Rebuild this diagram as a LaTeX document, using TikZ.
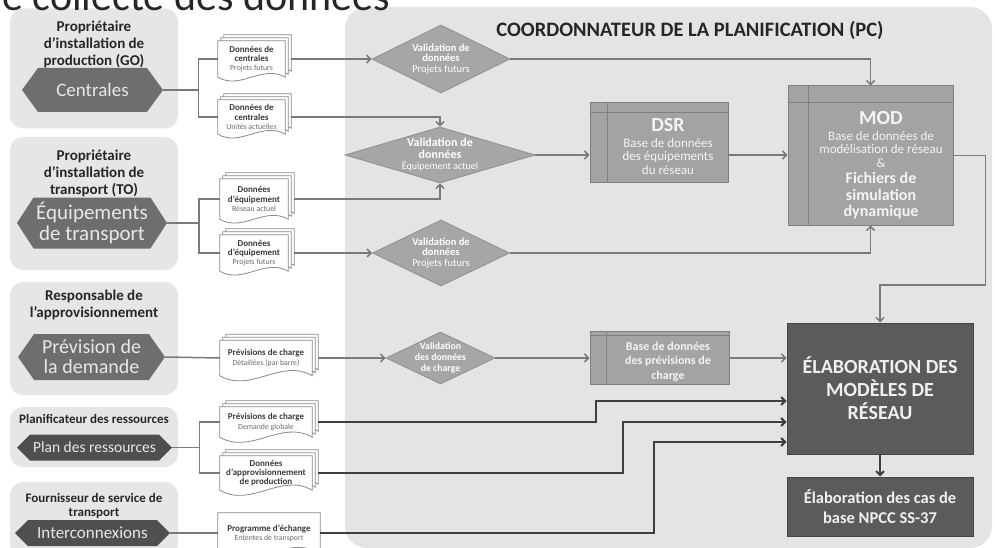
\documentclass[tikz,border=0pt]{standalone}
\usepackage{fontspec}
\setmainfont{Carlito}
\usetikzlibrary{shapes.geometric,shapes.symbols,arrows.meta,calc}
\pgfdeclarelayer{panels}
\pgfdeclarelayer{frames}
\pgfsetlayers{panels,frames,main}
\definecolor{panelbg}{HTML}{E6E6E6}
\definecolor{pcbg}{HTML}{E4E4E4}
\definecolor{hexA}{HTML}{6E6E6E}
\definecolor{hexB}{HTML}{4F4F4F}
\definecolor{hextext}{HTML}{E8E8E8}
\definecolor{diafill}{HTML}{A6A6A6}
\definecolor{diaedge}{HTML}{8E8E8E}
\definecolor{boxfill}{HTML}{A3A3A3}
\definecolor{boxedge}{HTML}{7F7F7F}
\definecolor{boxtext}{HTML}{F4F4F4}
\definecolor{darkfill}{HTML}{5B5B5B}
\definecolor{darkedge}{HTML}{454545}
\definecolor{elabtext}{HTML}{F0F0F0}
\definecolor{linecol}{HTML}{7A7A7A}
\definecolor{darkline}{HTML}{3F3F3F}
\definecolor{doctext}{HTML}{3A3A3A}
\definecolor{docsub}{HTML}{6A6A6A}
\definecolor{docedge}{HTML}{8A8A8A}
\newcommand{\docframe}[2]{%
  \path[docpage] ([shift={(#2pt,#2pt)}]#1.north west) -- ([shift={(#2pt,#2pt)}]#1.north east)
   -- ([shift={(#2pt,#2pt)}]#1.south east) to[out=150,in=-30] ([shift={(#2pt,#2pt)}]#1.south west) -- cycle;}
\newcommand{\docstack}[1]{\docframe{#1}{6}\docframe{#1}{3}\docframe{#1}{0}}
\tikzset{
  panel/.style={rectangle, rounded corners=13pt, fill=panelbg, draw=none, inner sep=0pt},
  pcpanel/.style={rectangle, rounded corners=22pt, fill=pcbg, draw=none, inner sep=0pt},
  ptitle/.style={font=\bfseries\fontsize{15}{17}\selectfont, align=center, text=black!85, inner sep=0pt},
  hexa/.style={signal, signal to=west and east, fill=hexA, text=hextext, inner sep=0pt, align=center},
  docnode/.style={rectangle, inner sep=0pt, align=center, text=doctext, font=\fontsize{9}{9.2}\selectfont},
  docpage/.style={fill=white, draw=docedge, line width=0.8pt},
  valid/.style={diamond, fill=diafill, draw=diaedge, line width=0.8pt, inner sep=0pt},
  vtext/.style={text=white, align=center, inner sep=0pt},
  dbbox/.style={rectangle, fill=boxfill, draw=boxedge, line width=1pt, inner sep=0pt},
  dbline/.style={draw=boxedge, line width=1pt},
  btext/.style={text=boxtext, align=center, inner sep=0pt},
  elab/.style={rectangle, fill=darkfill, draw=darkedge, line width=1pt, inner sep=0pt, text=elabtext, align=center},
  conn/.style={draw=linecol, line width=1.5pt, -{Straight Barb[length=4pt,width=8pt]}},
  feed/.style={draw=linecol, line width=1.5pt},
  dconn/.style={draw=darkline, line width=2pt, -{Straight Barb[length=4pt,width=8pt]}},
}
\begin{document}
\begin{tikzpicture}[x=1pt,y=1pt]
\useasboundingbox (0,0) rectangle (995,-548);
% ---------- panels ----------
\begin{pgfonlayer}{panels}
\fill[white] (0,0) rectangle (995,-548);
\node[panel, minimum width=168pt, minimum height=120pt] (pGO) at (94,-68.5) {};
\node[panel, minimum width=168pt, minimum height=133pt] (pTO) at (94,-203.5) {};
\node[panel, minimum width=168pt, minimum height=113pt] (pRA) at (94,-338.5) {};
\node[panel, minimum width=168pt, minimum height=60pt] (pPR) at (94,-437) {};
\node[panel, minimum width=168pt, minimum height=76pt] (pTS) at (94,-520) {};
\node[pcpanel, minimum width=647pt, minimum height=541pt] (pPC) at (668.5,-277.5) {};
\end{pgfonlayer}
% ---------- titles ----------
\node[anchor=base west, inner sep=0pt, font=\fontsize{42}{42}\selectfont, text=black!85] (ttl) at (-20,-11) {de collecte des données};
\node[font=\bfseries\fontsize{20.5}{22}\selectfont, text=black!85] (pct) at (690,-30) {COORDONNATEUR DE LA PLANIFICATION (PC)};
\node[ptitle] (tGO) at (94,-44) {Propriétaire\\d’installation de\\production (GO)};
\node[ptitle] (tTO) at (94,-173.5) {Propriétaire\\d’installation de\\transport (TO)};
\node[ptitle] (tRA) at (94,-304.5) {Responsable de\\l’approvisionnement};
\node[ptitle, font=\bfseries\fontsize{13}{15}\selectfont] (tPR) at (94,-419) {Planificateur des ressources};
\node[ptitle, font=\bfseries\fontsize{13}{14.5}\selectfont] (tTS) at (94,-506) {Fournisseur de service de\\transport};
% ---------- hexagons ----------
\node[hexa, signal pointer angle=108, minimum width=141pt, minimum height=44pt, font=\fontsize{19}{21}\selectfont] (hGO) at (92.5,-90) {Centrales};
\node[hexa, signal pointer angle=114, minimum width=150pt, minimum height=51pt, font=\fontsize{21}{21}\selectfont] (hTO) at (92,-223) {Équipements\\de transport};
\node[hexa, signal pointer angle=110, minimum width=147pt, minimum height=46pt, font=\fontsize{20}{20}\selectfont] (hRA) at (91.5,-357) {Prévision de\\la demande};
\node[hexa, fill=hexB, signal pointer angle=90, minimum width=155pt, minimum height=26pt, font=\fontsize{15.5}{17}\selectfont] (hPR) at (94.5,-447.5) {Plan des ressources};
\node[hexa, fill=hexB, signal pointer angle=90, minimum width=155pt, minimum height=26pt, font=\fontsize{17}{17}\selectfont] (hTS) at (92.5,-533) {Interconnexions};
% ---------- documents ----------
\node[docnode, minimum width=67pt, minimum height=36pt] (D1) at (251.5,-59) {\textbf{Données de}\\\textbf{centrales}\\{\color{docsub}\fontsize{7.8}{9.2}\selectfont Projets futurs}};
\node[docnode, minimum width=67pt, minimum height=34pt] (D2) at (251.5,-117) {\textbf{Données de}\\\textbf{centrales}\\{\color{docsub}\fontsize{7.8}{9.2}\selectfont Unités actuelles}};
\node[docnode, minimum width=68pt, minimum height=40pt] (D3) at (254,-199) {\textbf{Données}\\\textbf{d’équipement}\\{\color{docsub}\fontsize{7.8}{9.2}\selectfont Réseau actuel}};
\node[docnode, minimum width=68pt, minimum height=36pt] (D4) at (254,-253) {\textbf{Données}\\\textbf{d’équipement}\\{\color{docsub}\fontsize{7.8}{9.2}\selectfont Projets futurs}};
\node[docnode, minimum width=92pt, minimum height=35pt] (D5) at (266,-358) {\textbf{Prévisions de charge}\\{\color{docsub}\fontsize{7.8}{9.2}\selectfont Détaillées (par barre)}};
\node[docnode, minimum width=92pt, minimum height=30pt] (D6) at (266,-422) {\textbf{Prévisions de charge}\\{\color{docsub}\fontsize{7.8}{9.2}\selectfont Demande globale}};
\node[docnode, minimum width=92pt, minimum height=34pt] (D7) at (266,-473) {\textbf{Données}\\\textbf{d’approvisionnement}\\\textbf{de production}};
\node[docnode, minimum width=102pt, minimum height=40pt] (D8) at (269,-533) {\textbf{Programme d’échange}\\{\color{docsub}\fontsize{7.8}{9.2}\selectfont Ententes de transport}};
\begin{pgfonlayer}{frames}
\docstack{D1}\docstack{D2}\docstack{D3}\docstack{D4}\docstack{D5}\docstack{D6}\docstack{D7}\docframe{D8}{0}
\end{pgfonlayer}
% ---------- validation diamonds ----------
\node[valid, minimum width=138pt, minimum height=68pt, label={[vtext, font=\fontsize{10.5}{10.5}\selectfont]center:{\textbf{Validation de}\\\textbf{données}\\Projets futurs}}] (V1) at (441,-59) {};
\node[valid, minimum width=190pt, minimum height=56pt, label={[vtext, font=\fontsize{12}{11.5}\selectfont]center:{\textbf{Validation de}\\\textbf{données}\\{\fontsize{10}{11.5}\selectfont Équipement actuel}}}] (V2) at (440,-155) {};
\node[valid, minimum width=137pt, minimum height=66pt, label={[vtext, font=\fontsize{10.5}{10.5}\selectfont]center:{\textbf{Validation de}\\\textbf{données}\\Projets futurs}}] (V3) at (441,-253) {};
\node[valid, minimum width=109pt, minimum height=52pt, label={[vtext, font=\bfseries\fontsize{9.8}{10.8}\selectfont]center:{Validation\\des données\\de charge}}] (V4) at (440.5,-358) {};
% ---------- database boxes ----------
\node[dbbox, minimum width=138pt, minimum height=80pt] (DSR) at (659,-143) {};
\draw[dbline] ([yshift=-10pt]DSR.north west) -- ([yshift=-10pt]DSR.north east);
\draw[dbline] ([xshift=18pt]DSR.north west) -- ([xshift=18pt]DSR.south west);
\node[btext, font=\bfseries\fontsize{20}{22}\selectfont] (DSRh) at (668,-125) {DSR};
\node[btext, font=\fontsize{13}{13.5}\selectfont] (DSRs) at (668,-156.5) {Base de données\\des équipements\\du réseau};
\node[dbbox, minimum width=165pt, minimum height=139pt] (MOD) at (870.5,-155.5) {};
\draw[dbline] ([yshift=-17pt]MOD.north west) -- ([yshift=-17pt]MOD.north east);
\draw[dbline] ([xshift=21pt]MOD.north west) -- ([xshift=21pt]MOD.south west);
\node[btext, font=\bfseries\fontsize{20}{22}\selectfont] (MODh) at (881,-118) {MOD};
\node[btext, font=\fontsize{13}{13.5}\selectfont] (MODs) at (881,-149.5) {Base de données de\\modélisation de réseau\\\&};
\node[btext, font=\bfseries\fontsize{16}{16.5}\selectfont] (MODf) at (881,-196) {Fichiers de\\simulation\\dynamique};
\node[dbbox, minimum width=139pt, minimum height=53pt] (LOAD) at (659.5,-357.5) {};
\draw[dbline] ([yshift=-5pt]LOAD.north west) -- ([yshift=-5pt]LOAD.north east);
\draw[dbline] ([xshift=17pt]LOAD.north west) -- ([xshift=17pt]LOAD.south west);
\node[btext, font=\bfseries\fontsize{12}{14.5}\selectfont] (LOADt) at (668,-361.5) {Base de données\\des prévisions de\\charge};
% ---------- elaboration ----------
\node[elab, minimum width=186pt, minimum height=131pt, font=\bfseries\fontsize{20}{23}\selectfont] (ELAB) at (880,-388.5) {ÉLABORATION DES\\MODÈLES DE\\RÉSEAU};
\node[elab, minimum width=186pt, minimum height=59pt, font=\bfseries\fontsize{16.5}{20}\selectfont] (ELAB2) at (880,-506.5) {Élaboration des cas de\\base NPCC SS-37};
% ---------- connectors: sources to documents ----------
\draw[feed] (hGO.east) -- ++(35,0) coordinate (bGO);
\draw[feed] (D1.west) -| (bGO) |- (D2.west);
\draw[feed] (hTO.east) -- ++(32,0) coordinate (bTO);
\draw[feed] (D3.west) -| (bTO) |- (D4.west);
\draw[feed] (hRA.east) -- (D5.west);
\draw[feed] (hPR.east) -- ++(27,0) coordinate (bPR);
\draw[feed] (D6.west) -| (bPR) |- (D7.west);
\draw[feed] (hTS.east) -- (D8.west);
% ---------- connectors: documents to validation ----------
\draw[conn] ([xshift=6pt]D1.east) -- (V1.west);
\draw[conn] ([xshift=6pt]D2.east) -| (V2.north);
\draw[conn] ([xshift=6pt]D3.east) -| (V2.south);
\draw[conn] ([xshift=6pt]D4.east) -- (V3.west);
\draw[conn] ([xshift=6pt]D5.east) -- (V4.west);
% ---------- connectors inside PC ----------
\draw[conn] (V1.east) -| (MOD.north);
\draw[conn] (V3.east) -| (MOD.south);
\draw[conn] (V2.east) -- (V2.east -| DSR.west);
\draw[conn] (DSR.east |- V2.east) -- (MOD.west |- V2.east);
\draw[conn] (V4.east) -- (V4.east -| LOAD.west);
\draw[conn] (LOAD.east |- V4.east) -- (ELAB.west |- V4.east);
\draw[conn] (MOD.east) -| ([xshift=32pt,yshift=-129.5pt]MOD.east) -| (ELAB.north);
\coordinate (j6) at (596,-401);
\coordinate (j7) at (623,-422);
\coordinate (j8) at (654,-442);
\draw[dconn] ([xshift=6pt]D6.east) -| (j6) -- (j6 -| ELAB.west);
\draw[dconn] ([xshift=6pt]D7.east) -| (j7) -- (j7 -| ELAB.west);
\draw[dconn] (D8.east) -| (j8) -- (j8 -| ELAB.west);
\draw[dconn] (ELAB.south) -- (ELAB2.north);
\end{tikzpicture}
\end{document}
